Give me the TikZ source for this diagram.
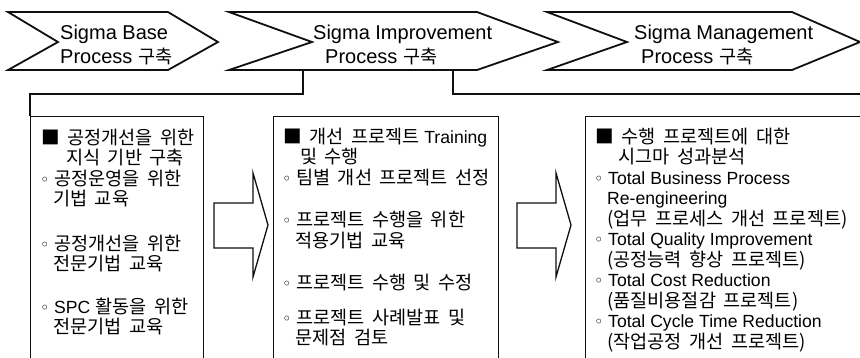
\documentclass[tikz,border=0pt]{standalone}
\usepackage{fontspec}
\setmainfont{Liberation Sans}
\newfontfamily\kofont{Noto Sans CJK KR}[WordSpace=1.8]
\newfontfamily\symfont{DejaVu Sans}
\usetikzlibrary{positioning, calc}
\definecolor{lineColor}{RGB}{15, 15, 15}
\definecolor{textColor}{RGB}{0, 0, 0}
\newcommand{\kr}[1]{{\kofont\fontsize{18.6}{20}\selectfont #1}}
\newcommand{\bul}{\makebox[13pt][l]{\hspace*{-1pt}\symfont\fontsize{16}{16}\selectfont ◦}}

\begin{document}
\begin{tikzpicture}[x=1pt, y=-1pt]

% Style definitions
\tikzset{
    chev/.style={
        draw=lineColor, line width=1.8pt, line join=miter, fill=white
    },
    chevtext/.style={
        anchor=north west, inner sep=0pt, align=left, text=textColor,
        font=\fontsize{20}{24}\selectfont
    },
    listbox/.style={
        rectangle, draw=lineColor, line width=1.2pt, anchor=north west,
        minimum height=260pt, inner sep=0pt
    },
    listtext/.style={
        anchor=north west, inner sep=0pt, align=left, text=textColor,
        font=\fontsize{17.6}{20.5}\selectfont
    },
    bracket/.style={draw=lineColor, line width=1.4pt},
    blockarrow/.style={draw=lineColor, line width=1.3pt, line join=miter, fill=white}
}

\useasboundingbox (0,0) rectangle (860,357);
\clip (0,0) rectangle (860,357);

% Process chevrons
\draw [chev] (8,12) -- (168,12) -- (218,42) -- (168,70) -- (8,70) -- (58,42) -- cycle;
\draw [chev] (229,12) -- (477,12) -- (558,42) -- (477,70) -- (229,70) -- (312,42) -- cycle;
\draw [chev] (547,12) -- (792,12) -- (860,42) -- (792,70) -- (547,70) -- (627,42) -- cycle;

\node (baseTitle) [chevtext] at (60,22) {\rule{0pt}{17pt}Sigma Base\\Process \kr{구축}};
\node (improveTitle) [chevtext] at (313,22) {\rule{0pt}{17pt}Sigma Improvement\\\hspace*{12pt}Process \kr{구축}};
\node (manageTitle) [chevtext] at (634,22) {\rule{0pt}{17pt}Sigma Management\\\hspace*{7pt}Process \kr{구축}};

% Content boxes
\node (baseBox) [listbox, minimum width=173pt] at (30,116) {};
\node (improveBox) [listbox, minimum width=225pt] at (273,116) {};
\node (manageBox) [listbox, minimum width=300pt] at (585,116) {};

\node (baseList) [listtext] at (41,127) {\rule{0pt}{17pt}\kr{■ 공정개선을 위한}\\
    \hspace*{25pt}\kr{지식 기반 구축}\\
    \bul\kr{공정운영을 위한}\\
    \hspace*{12pt}\kr{기법 교육}\\[24pt]
    \bul\kr{공정개선을 위한}\\
    \hspace*{12pt}\kr{전문기법 교육}\\[22pt]
    \bul SPC \kr{활동을 위한}\\
    \hspace*{12pt}\kr{전문기법 교육}};

\node (improveList) [listtext] at (283,126) {\rule{0pt}{17pt}\kr{■ 개선 프로젝트} Training\\
    \hspace*{17pt}\kr{및 수행}\\
    \bul\kr{팀별 개선 프로젝트 선정}\\[22pt]
    \bul\kr{프로젝트 수행을 위한}\\
    \hspace*{12pt}\kr{적용기법 교육}\\[22pt]
    \bul\kr{프로젝트 수행 및 수정}\\[14pt]
    \bul\kr{프로젝트 사례발표 및}\\
    \hspace*{12pt}\kr{문제점 검토}};

\node (manageList) [listtext] at (595,126) {\rule{0pt}{17pt}\kr{■ 수행 프로젝트에 대한}\\
    \hspace*{23pt}\kr{시그마 성과분석}\\
    \bul Total Business Process\\
    \hspace*{12pt}Re-engineering\\
    \hspace*{12pt}\kr{(업무 프로세스 개선 프로젝트)}\\
    \bul Total Quality Improvement\\
    \hspace*{12pt}\kr{(공정능력 향상 프로젝트)}\\
    \bul Total Cost Reduction\\
    \hspace*{12pt}\kr{(품질비용절감 프로젝트)}\\
    \bul Total Cycle Time Reduction\\
    \hspace*{12pt}\kr{(작업공정 개선 프로젝트)}};

% Bracket from the improvement chevron
\coordinate (tapL) at (303,70);
\coordinate (tapR) at (453,70);
\draw [bracket] (tapL) -- ++(0,24) -| (baseBox.north west);
\draw [bracket] (tapR) -- ++(0,24) -| (manageBox.north east);

% Block arrows between boxes
\draw [blockarrow] (214,203) -- (253,203) -- (253,173) -- (268,225) -- (253,277) -- (253,248) -- (214,248) -- cycle;
\draw [blockarrow] (517,203) -- (556,203) -- (556,173) -- (571,225) -- (556,277) -- (556,248) -- (517,248) -- cycle;

\end{tikzpicture}
\end{document}
